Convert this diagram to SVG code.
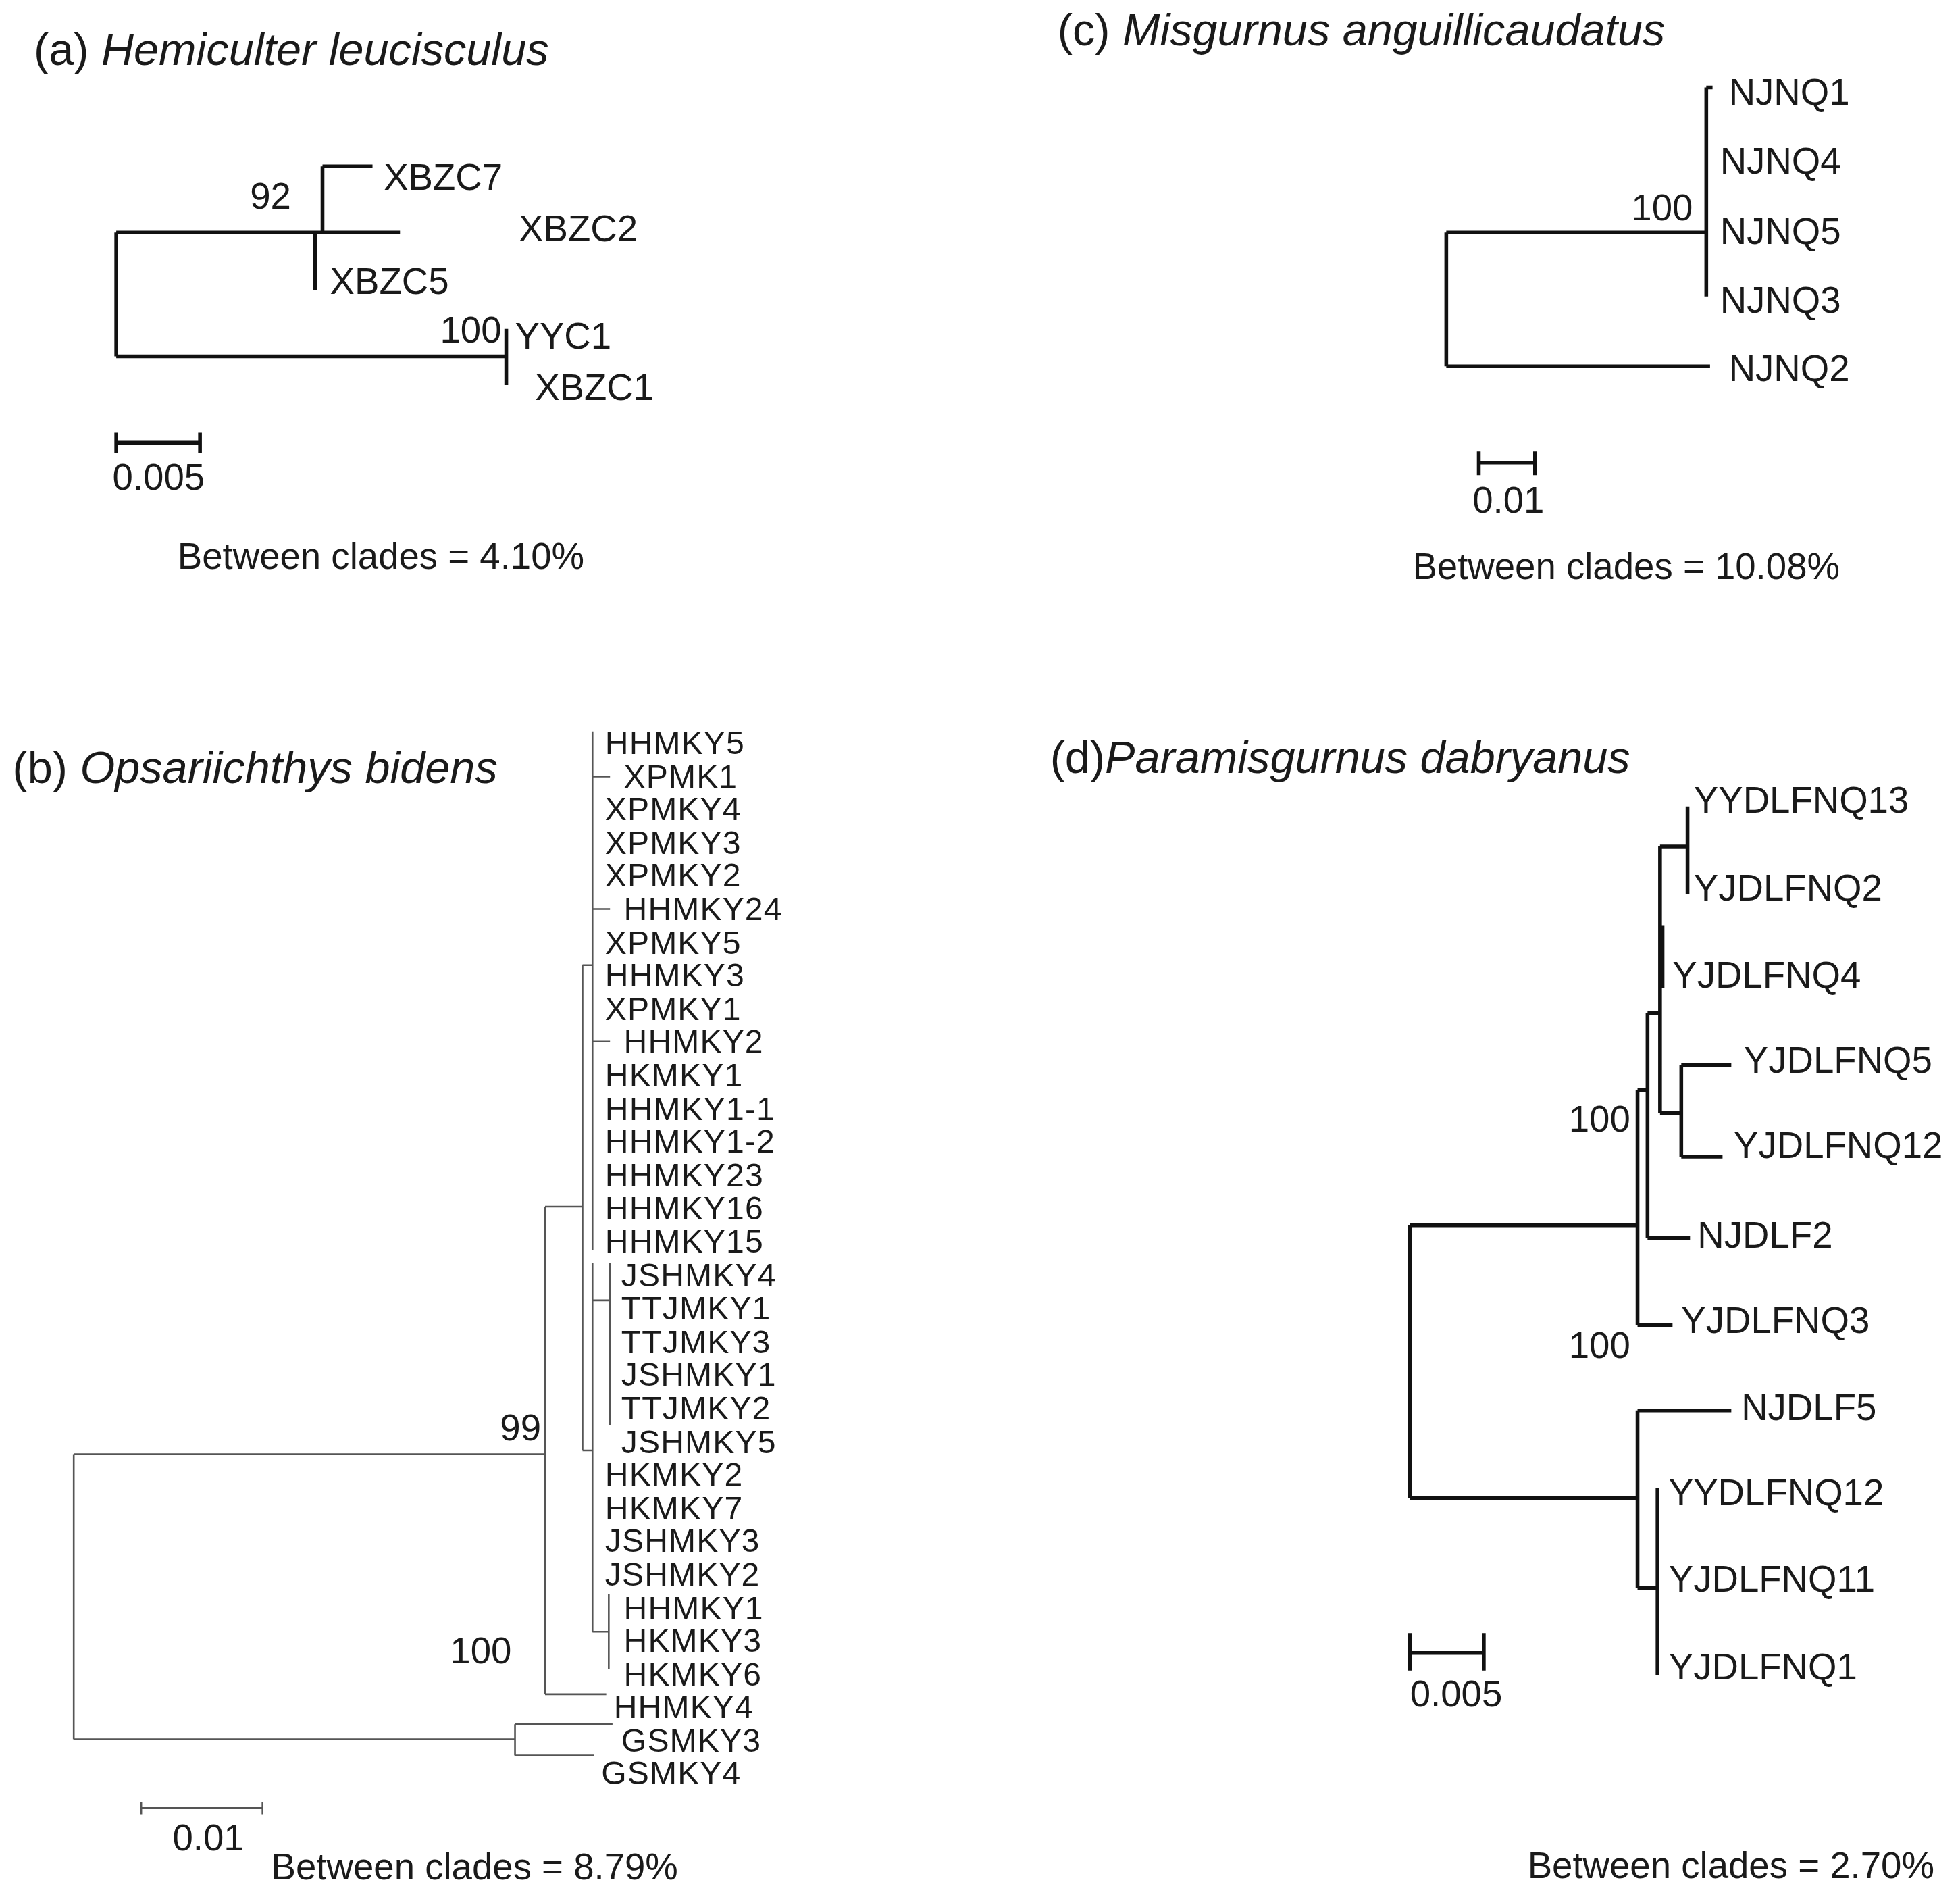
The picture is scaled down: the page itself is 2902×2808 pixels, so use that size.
<svg xmlns="http://www.w3.org/2000/svg" width="2902" height="2808" viewBox="0 0 2902 2808">
<style>
text{font-family:"Liberation Sans",Arial,sans-serif;fill:#1a1a1a}
.t{font-size:36px}
.l{font-size:29.5px}
.lb{font-size:26px;letter-spacing:0.6px}
.it{font-style:italic}
.k{stroke:#111;stroke-width:3;fill:none}
.g{stroke:#555;stroke-width:1.4;fill:none}
</style>
<rect width="2902" height="2808" fill="#fff"/>
<g transform="scale(1.8508)">
<g id="panel-a">
<text class="t" x="27" y="52">(a) <tspan class="it">Hemiculter leucisculus</tspan></text>
<g id="a-edges" class="k">
<path d="M93,186V285M93,186H252M252,186V232M252,186H320M258,133V186M258,133H298M93,285H405M405,263V308"/>
<path d="M93,354H160M93,346V362M160,346V362"/>
</g>
<g class="l">
<text x="307" y="152">XBZC7</text><text x="415" y="193">XBZC2</text><text x="264" y="235">XBZC5</text>
<text x="412" y="279">YYC1</text><text x="428" y="320">XBZC1</text>
<text x="200" y="167">92</text><text x="352" y="274">100</text>
<text x="90" y="392">0.005</text><text x="142" y="455">Between clades = 4.10%</text>
</g>
</g>
<g id="panel-c">
<text class="t" x="846" y="36">(c) <tspan class="it">Misgurnus anguillicaudatus</tspan></text>
<g id="c-edges" class="k">
<path d="M1365,70V237M1365,70H1370M1157,186H1365M1157,186V293M1157,293H1368"/>
<path d="M1183,370H1228M1183,361V380M1228,361V380"/>
</g>
<g class="l">
<text x="1383" y="84">NJNQ1</text><text x="1376" y="139">NJNQ4</text><text x="1376" y="195">NJNQ5</text>
<text x="1376" y="250">NJNQ3</text><text x="1383" y="305">NJNQ2</text><text x="1305" y="176">100</text>
<text x="1178" y="410">0.01</text><text x="1130" y="463">Between clades = 10.08%</text>
</g>
</g>
<g id="panel-b">
<text class="t" x="10" y="626">(b) <tspan class="it">Opsariichthys bidens</tspan></text>
<g id="b-edges" class="g">
<path d="M474,585V1000M474,621H488M474,727H488M474,833H488M466,772H474M466,772V1160M466,1160H474M474,1010V1305M474,1040H488M488,1010V1140M474,1305H487M487,1275V1335"/>
<path d="M436,965H466M436,965V1355M436,1355H485M59,1163H436M59,1163V1391M59,1391H412M412,1379V1404M412,1379H490M412,1404H475"/>
<path d="M113,1446H210M113,1441V1451M210,1441V1451"/>
</g>
<g class="lb">
<text x="484" y="603">HHMKY5</text><text x="499" y="630">XPMK1</text><text x="484" y="656">XPMKY4</text>
<text x="484" y="683">XPMKY3</text><text x="484" y="709">XPMKY2</text><text x="499" y="736">HHMKY24</text>
<text x="484" y="763">XPMKY5</text><text x="484" y="789">HHMKY3</text><text x="484" y="816">XPMKY1</text>
<text x="499" y="842">HHMKY2</text><text x="484" y="869">HKMKY1</text><text x="484" y="896">HHMKY1-1</text>
<text x="484" y="922">HHMKY1-2</text><text x="484" y="949">HHMKY23</text><text x="484" y="975">HHMKY16</text>
<text x="484" y="1002">HHMKY15</text><text x="497" y="1029">JSHMKY4</text><text x="497" y="1055">TTJMKY1</text>
<text x="497" y="1082">TTJMKY3</text><text x="497" y="1108">JSHMKY1</text><text x="497" y="1135">TTJMKY2</text>
<text x="497" y="1162">JSHMKY5</text><text x="484" y="1188">HKMKY2</text><text x="484" y="1215">HKMKY7</text>
<text x="484" y="1241">JSHMKY3</text><text x="484" y="1268">JSHMKY2</text><text x="499" y="1295">HHMKY1</text>
<text x="499" y="1321">HKMKY3</text><text x="499" y="1348">HKMKY6</text><text x="491" y="1374">HHMKY4</text>
<text x="497" y="1401">GSMKY3</text><text x="481" y="1427">GSMKY4</text>
</g>
<g class="l">
<text x="400" y="1152">99</text><text x="360" y="1330">100</text>
<text x="138" y="1480">0.01</text><text x="217" y="1503">Between clades = 8.79%</text>
</g>
</g>
<g id="panel-d">
<text class="t" x="840" y="618">(d)<tspan class="it">Paramisgurnus dabryanus</tspan></text>
<g id="d-edges" class="k">
<path d="M1350,645V715M1328,677H1350M1328,677V890M1330,740V790M1328,890H1345M1345,852V925M1345,852H1385M1345,925H1378"/>
<path d="M1318,810H1328M1318,810V990M1318,990H1352M1310,872H1318M1310,872V1060M1310,1060H1338"/>
<path d="M1128,980V1198M1128,980H1310M1128,1198H1310M1310,1128V1270M1310,1128H1385M1310,1270H1326M1326,1190V1340"/>
<path d="M1128,1322H1187M1128,1306V1336M1187,1306V1336"/>
</g>
<g class="l">
<text x="1355" y="650">YYDLFNQ13</text><text x="1355" y="720">YJDLFNQ2</text><text x="1338" y="790">YJDLFNQ4</text>
<text x="1395" y="858">YJDLFNQ5</text><text x="1387" y="926">YJDLFNQ12</text><text x="1358" y="998">NJDLF2</text>
<text x="1345" y="1066">YJDLFNQ3</text><text x="1393" y="1136">NJDLF5</text><text x="1335" y="1204">YYDLFNQ12</text>
<text x="1335" y="1273">YJDLFNQ11</text><text x="1335" y="1343">YJDLFNQ1</text>
<text x="1255" y="905">100</text><text x="1255" y="1086">100</text>
<text x="1128" y="1365">0.005</text><text x="1222" y="1502">Between clades = 2.70%</text>
</g>
</g>
</g>
</svg>
